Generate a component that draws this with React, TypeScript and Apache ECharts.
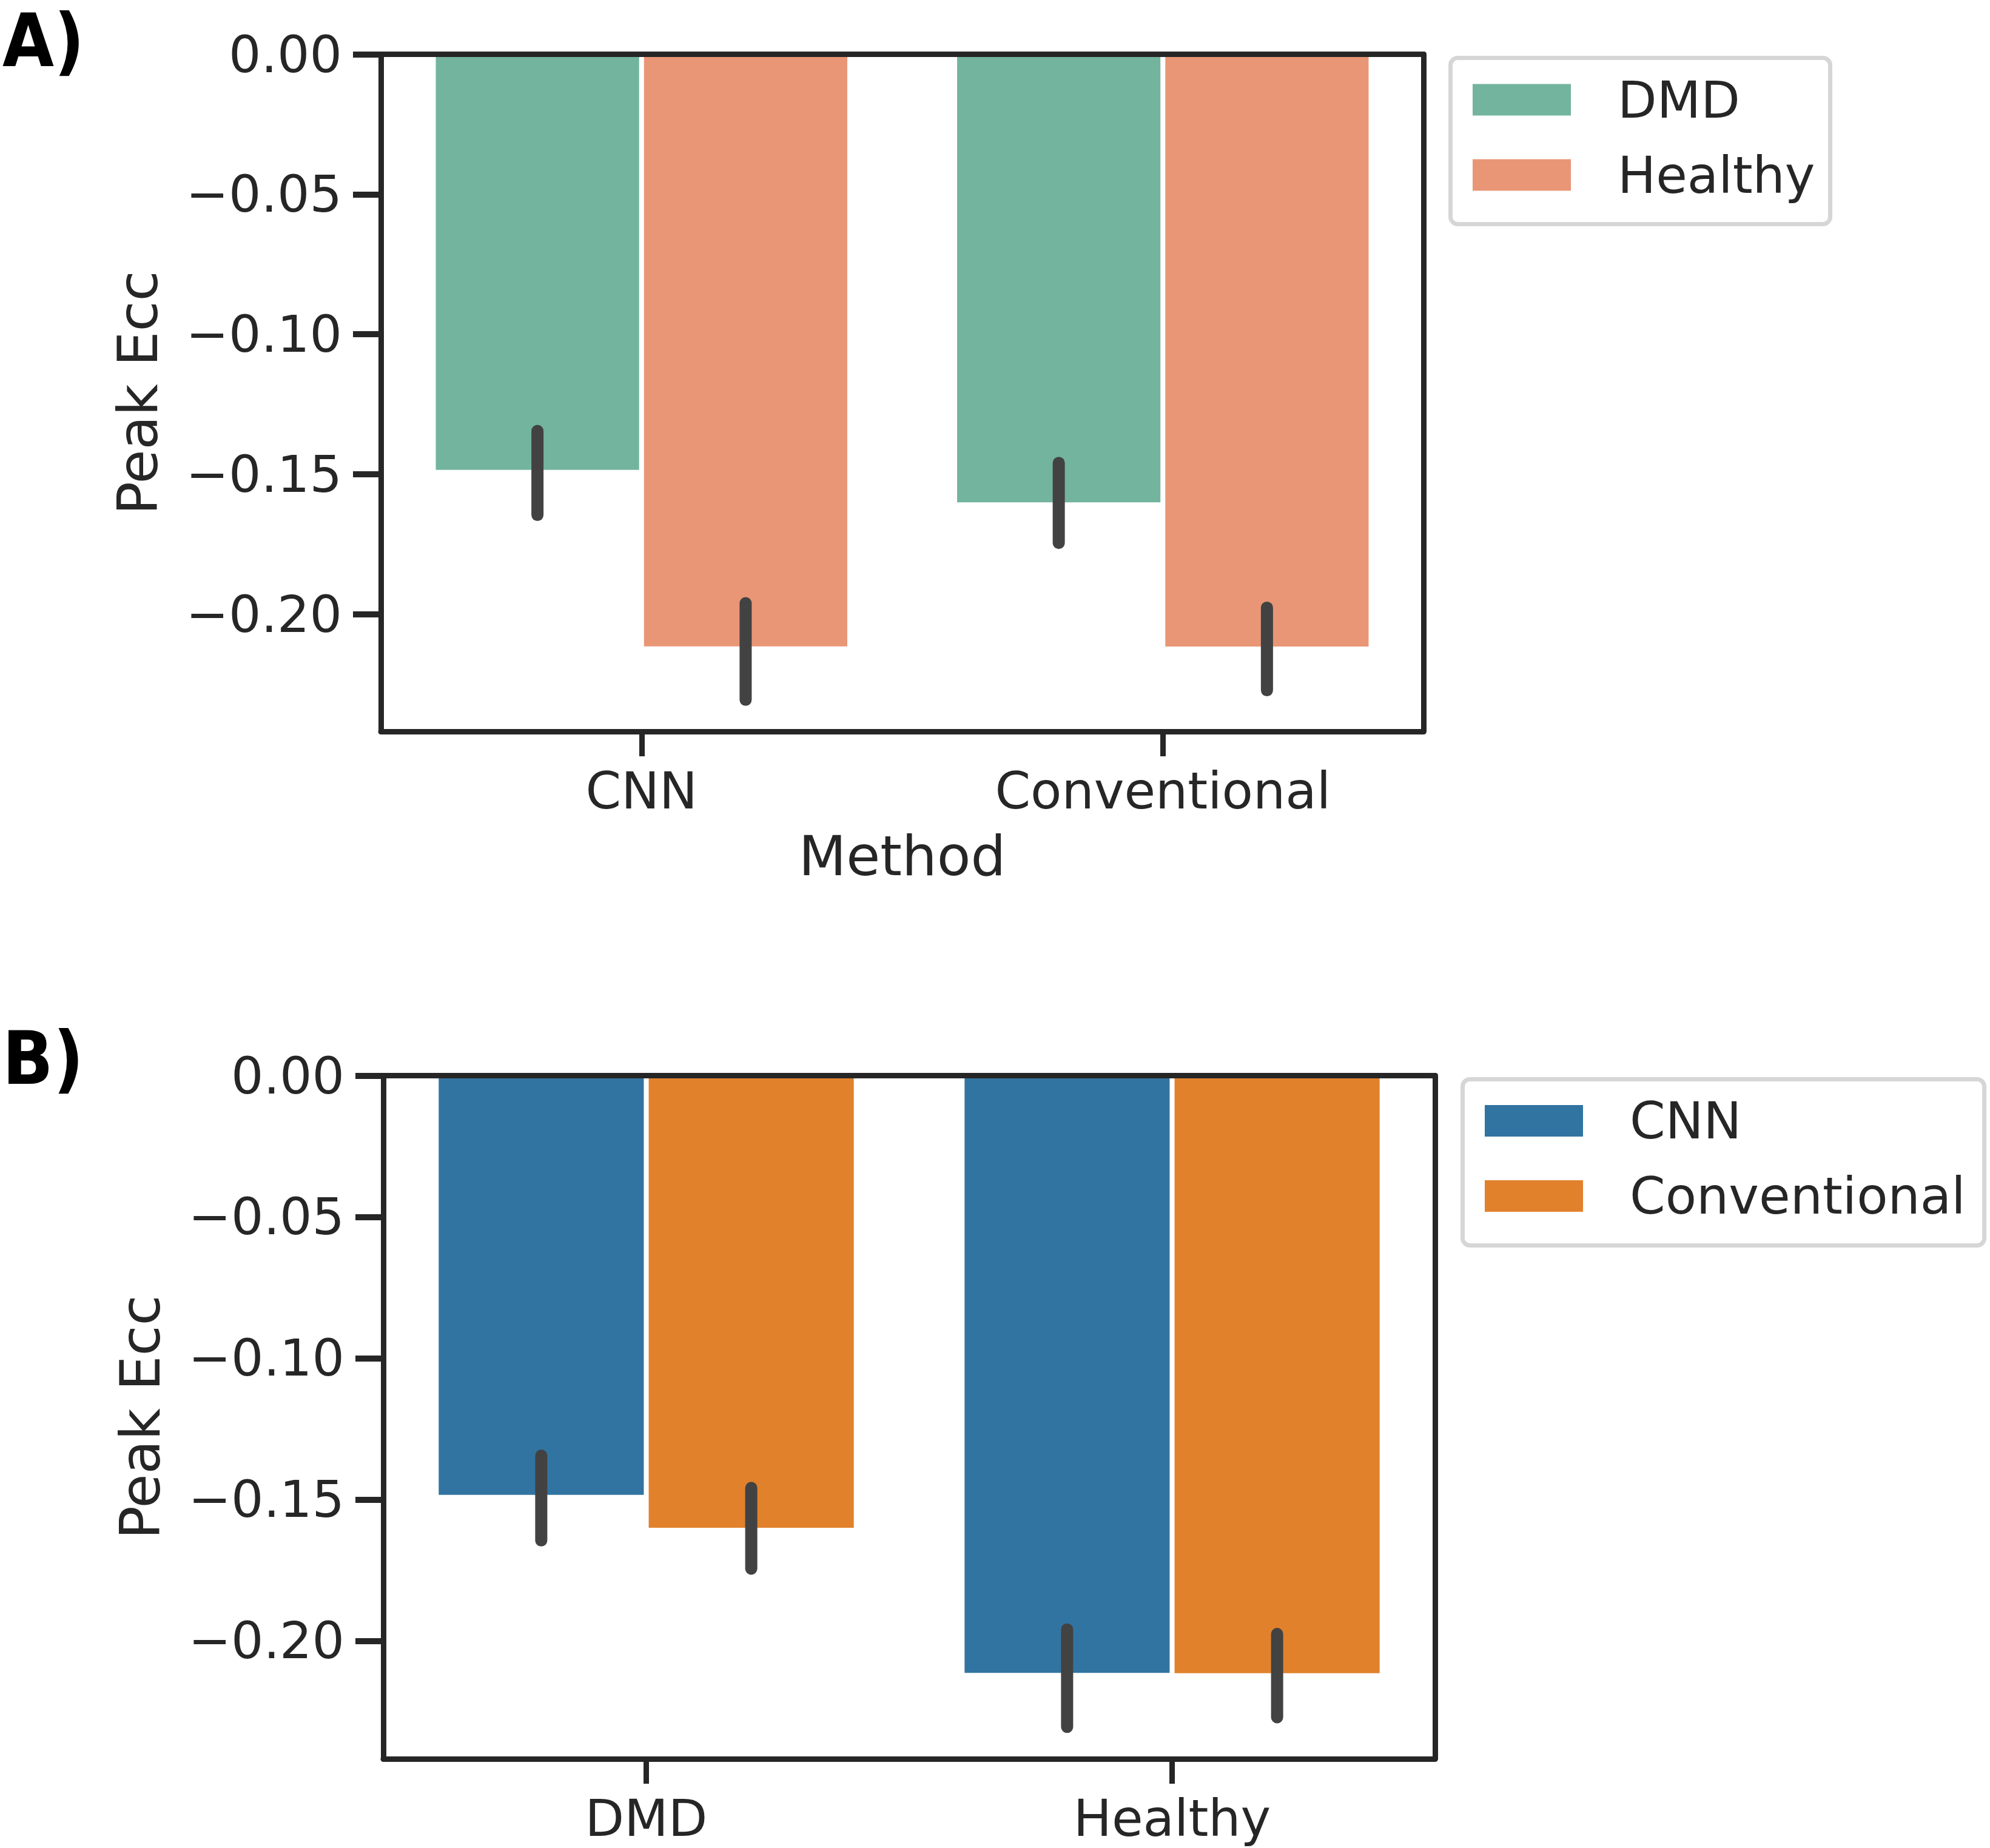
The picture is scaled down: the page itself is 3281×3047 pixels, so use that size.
import React, { useEffect, useRef } from "react";
import * as echarts from "echarts";

// ---- data ----
const methods = ["CNN", "Conventional"];
const groups = ["DMD", "Healthy"];
// mean Peak Ecc and 95% CI, indexed by method [CNN, Conventional]
const dmdMean = [-0.1484, -0.16];
const dmdLow = [-0.1645, -0.1745];
const dmdHigh = [-0.1345, -0.1459];
const healthyMean = [-0.2114, -0.2115];
const healthyLow = [-0.2305, -0.2271];
const healthyHigh = [-0.196, -0.1976];
const yTicks = [0, -0.05, -0.1, -0.15, -0.2];
const yMin = -0.2418;

const TEXT = "#262626";
const FONT = "DejaVu Sans";
const colA = ["#73b49f", "#e99676"];
const colB = ["#3274a1", "#e1812c"];

const gridA = { left: 628, top: 89.5, width: 1719, height: 1116.5 };
const gridB = { left: 632, top: 1773.5, width: 1734, height: 1126.5 };
const BAR_FRAC = 0.39;
const GAP_FRAC = 0.024;

const fmt = (v: number) => (Math.abs(v) < 1e-9 ? "0.00" : "\u2212" + Math.abs(v).toFixed(2));

export default function App() {
  const ref = useRef<HTMLDivElement>(null);
  useEffect(() => {
    const chart = echarts.init(ref.current!, null, { renderer: "svg" });

    const offA = (gridA.width / 2) * BAR_FRAC * (1 + GAP_FRAC) / 2;
    const offB = (gridB.width / 2) * BAR_FRAC * (1 + GAP_FRAC) / 2;

    const errSeries = (name: string, gi: number, data: number[][], off: number) => ({
      type: "custom",
      name,
      xAxisIndex: gi * 2,
      yAxisIndex: gi * 2,
      z: 5,
      encode: { x: 0, y: [1, 2] },
      data,
      renderItem: (params: any, api: any) => {
        const p1 = api.coord([api.value(0), api.value(1)]);
        const p2 = api.coord([api.value(0), api.value(2)]);
        return {
          type: "line",
          shape: { x1: p1[0] + off, y1: p1[1], x2: p1[0] + off, y2: p2[1] },
          style: { stroke: "#424242", lineWidth: 20, lineCap: "round" },
        };
      },
    });

    const mkX = (gi: number, cats: string[], name: string) => [
      {
        type: "category",
        gridIndex: gi,
        data: cats,
        position: "bottom",
        z: 10,
        axisLine: { show: true, onZero: false, lineStyle: { color: TEXT, width: 9 } },
        axisTick: { show: true, alignWithLabel: true, length: 41, lineStyle: { color: TEXT, width: 9 } },
        axisLabel: { color: TEXT, fontFamily: FONT, fontSize: 84, margin: 56 },
        name,
        nameLocation: "middle",
        nameGap: 160,
        nameTextStyle: { color: TEXT, fontFamily: FONT, fontSize: 91, verticalAlign: "top" },
        splitLine: { show: false },
      },
      {
        type: "category",
        gridIndex: gi,
        data: cats,
        position: "top",
        z: 10,
        axisLine: { show: true, onZero: false, lineStyle: { color: TEXT, width: 9 } },
        axisTick: { show: false },
        axisLabel: { show: false },
        splitLine: { show: false },
      },
    ];

    const mkY = (gi: number) => [
      {
        type: "value",
        gridIndex: gi,
        min: yMin,
        max: 0,
        position: "left",
        z: 10,
        axisLine: { show: true, onZero: false, lineStyle: { color: TEXT, width: 9 } },
        axisTick: { show: true, length: 46, customValues: yTicks, lineStyle: { color: TEXT, width: 10 } },
        axisLabel: {
          color: TEXT,
          fontFamily: FONT,
          fontSize: 84,
          margin: 64,
          customValues: yTicks,
          formatter: (v: number) => fmt(v),
        },
        splitLine: { show: false },
        name: "Peak Ecc",
        nameLocation: "middle",
        nameGap: 355,
        nameRotate: 90,
        nameTextStyle: { color: TEXT, fontFamily: FONT, fontSize: 91 },
      },
      {
        type: "value",
        gridIndex: gi,
        min: yMin,
        max: 0,
        position: "right",
        z: 10,
        axisLine: { show: true, onZero: false, lineStyle: { color: TEXT, width: 9 } },
        axisTick: { show: false },
        axisLabel: { show: false },
        splitLine: { show: false },
      },
    ];

    const legendBase = {
      orient: "vertical",
      icon: "rect",
      itemWidth: 162,
      itemHeight: 52,
      itemGap: 40,
      backgroundColor: "#ffffff",
      borderColor: "#d6d6d6",
      borderWidth: 7,
      borderRadius: 12,
      textStyle: { color: TEXT, fontFamily: FONT, fontSize: 84, padding: [0, 0, 0, 72] },
    };

    const panelFont = "'DejaVu Sans Condensed', 'DejaVu Sans', sans-serif";

    const option: any = {
      animation: false,
      backgroundColor: "#ffffff",
      grid: [
        { ...gridA, containLabel: false },
        { ...gridB, containLabel: false },
      ],
      xAxis: [...mkX(0, methods, "Method"), ...mkX(1, groups, "")],
      yAxis: [...mkY(0), ...mkY(1)],
      legend: [
        {
          ...legendBase,
          left: 2391.5,
          top: 95.5,
          padding: [27, 25, 39, 36.5],
          data: ["DMD", "Healthy"],
        },
        {
          ...legendBase,
          left: 2411.5,
          top: 1779.5,
          padding: [26.5, 31, 39.5, 36.5],
          data: ["CNN", "Conventional"],
        },
      ],
      series: [
        {
          type: "bar",
          name: "DMD",
          xAxisIndex: 0,
          yAxisIndex: 0,
          data: dmdMean,
          barWidth: BAR_FRAC * 100 + "%",
          barGap: GAP_FRAC * 100 + "%",
          itemStyle: { color: colA[0] },
        },
        {
          type: "bar",
          name: "Healthy",
          xAxisIndex: 0,
          yAxisIndex: 0,
          data: healthyMean,
          barWidth: BAR_FRAC * 100 + "%",
          barGap: GAP_FRAC * 100 + "%",
          itemStyle: { color: colA[1] },
        },
        errSeries("errA0", 0, methods.map((_, i) => [i, dmdLow[i], dmdHigh[i]]), -offA),
        errSeries("errA1", 0, methods.map((_, i) => [i, healthyLow[i], healthyHigh[i]]), offA),
        {
          type: "bar",
          name: "CNN",
          xAxisIndex: 2,
          yAxisIndex: 2,
          data: [dmdMean[0], healthyMean[0]],
          barWidth: BAR_FRAC * 100 + "%",
          barGap: GAP_FRAC * 100 + "%",
          itemStyle: { color: colB[0] },
        },
        {
          type: "bar",
          name: "Conventional",
          xAxisIndex: 2,
          yAxisIndex: 2,
          data: [dmdMean[1], healthyMean[1]],
          barWidth: BAR_FRAC * 100 + "%",
          barGap: GAP_FRAC * 100 + "%",
          itemStyle: { color: colB[1] },
        },
        errSeries("errB0", 1, [[0, dmdLow[0], dmdHigh[0]], [1, healthyLow[0], healthyHigh[0]]], -offB),
        errSeries("errB1", 1, [[0, dmdLow[1], dmdHigh[1]], [1, healthyLow[1], healthyHigh[1]]], offB),
      ],
      graphic: [
        {
          type: "text",
          left: 4,
          top: 6,
          style: { text: "A)", fontFamily: panelFont, fontWeight: "bold", fontSize: 122, fill: "#000000" },
        },
        {
          type: "text",
          left: 4,
          top: 1684,
          style: { text: "B)", fontFamily: panelFont, fontWeight: "bold", fontSize: 122, fill: "#000000" },
        },
      ],
    };
    chart.setOption(option);
    return () => chart.dispose();
  }, []);
  return (
    <div
      ref={ref}
      style={{ position: "absolute", left: 0, top: 0, width: 3281, height: 3047, background: "#fff" }}
    />
  );
}
